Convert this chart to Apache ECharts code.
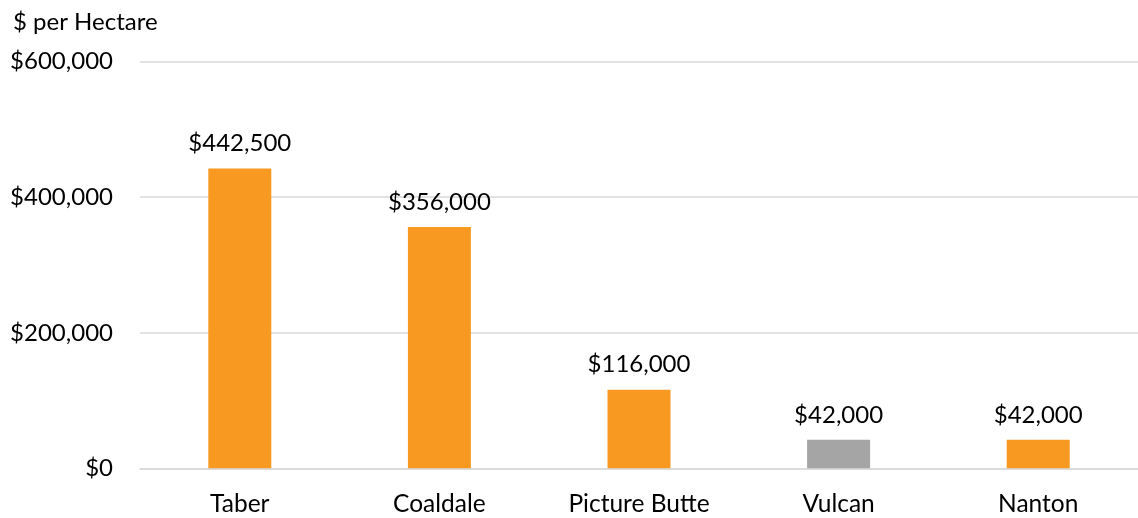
<!DOCTYPE html>
<html>
<head>
<meta charset="utf-8">
<script src="https://cdn.jsdelivr.net/npm/echarts@6/dist/echarts.min.js"></script>
<style>
  html, body { margin: 0; padding: 0; background: #ffffff; }
  #chart { width: 1138px; height: 518px; }
</style>
</head>
<body>
<div id="chart"></div>
<script>
// Land value per hectare by town
const towns = ['Taber', 'Coaldale', 'Picture Butte', 'Vulcan', 'Nanton'];
const valuesPerHectare = [442500, 356000, 116000, 42000, 42000];
const yTicks = [0, 200000, 400000, 600000];
const highlightedTown = 'Vulcan';

const ORANGE = '#F89A22';
const GREY = '#A5A5A5';
const FONT = 'Lato, "Open Sans", sans-serif';

const money = v => '$' + Number(v).toLocaleString('en-US');

const chart = echarts.init(document.getElementById('chart'));
chart.setOption({
  animation: false,
  backgroundColor: '#ffffff',
  textStyle: { fontFamily: FONT },
  title: {
    text: '$ per Hectare',
    left: 8,
    top: 5,
    textStyle: { fontFamily: FONT, fontSize: 24, fontWeight: 'normal', color: '#000000' }
  },
  grid: { left: 140, top: 61.7, width: 1004, height: 406.6, containLabel: false },
  xAxis: {
    type: 'category',
    data: towns,
    axisTick: { show: false },
    axisLine: { show: true, lineStyle: { color: '#D9D9D9', width: 1.5 } },
    axisLabel: { color: '#000000', fontSize: 24.5, fontFamily: FONT, margin: 23 }
  },
  yAxis: {
    type: 'value',
    min: yTicks[0],
    max: yTicks[yTicks.length - 1],
    interval: yTicks[1] - yTicks[0],
    axisLine: { show: false },
    axisTick: { show: false },
    splitLine: { lineStyle: { color: '#D9D9D9', width: 1.5 } },
    axisLabel: { color: '#000000', fontSize: 24, fontFamily: FONT, margin: 27, formatter: money }
  },
  series: [{
    type: 'bar',
    data: valuesPerHectare,
    barWidth: 63,
    itemStyle: {
      color: p => (p.name === highlightedTown ? GREY : ORANGE)
    },
    label: {
      show: true,
      position: 'top',
      distance: 13,
      color: '#000000',
      fontSize: 24,
      fontFamily: FONT,
      formatter: p => money(p.value)
    }
  }]
});
</script>
</body>
</html>
